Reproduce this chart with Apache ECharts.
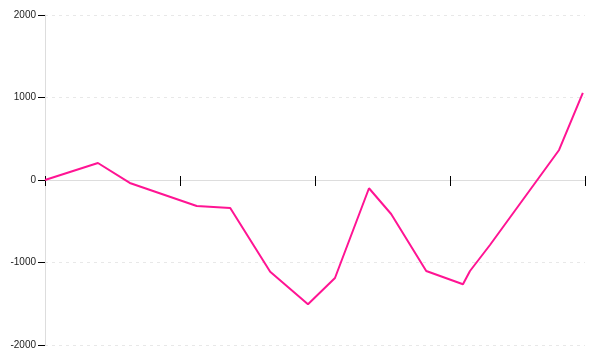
<!DOCTYPE html>
<html>
<head>
<meta charset="utf-8">
<script src="https://cdn.jsdelivr.net/npm/echarts@6/dist/echarts.min.js"></script>
<style>html,body{margin:0;padding:0;background:#fff}#c{width:600px;height:360px}</style>
</head>
<body>
<div id="c"></div>
<script>
var xValues = [0, 9.8, 15.7, 28.1, 34.3, 41.7, 48.7, 53.7, 60.0, 64.1, 70.6, 77.4, 78.7, 82.4, 95.2, 99.6];
var yValues = [0, 206, -36, -315, -340, -1112, -1507, -1188, -100, -412, -1103, -1264, -1103, -788, 364, 1055];
var yTicks = [-2000, -1000, 0, 1000, 2000];

var points = xValues.map(function (x, i) { return [x, yValues[i]]; });
var chart = echarts.init(document.getElementById('c'));
var gridBox = { left: 45, right: 15, top: 15, bottom: 15 };
chart.setOption({
  animation: false,
  grid: [Object.assign({}, gridBox), Object.assign({}, gridBox)],
  xAxis: [
    {
      gridIndex: 0, type: 'value', min: 0, max: 100, interval: 25,
      axisLabel: { show: false }, splitLine: { show: false },
      axisLine: { onZero: true, lineStyle: { color: '#dddddd', width: 1 } },
      axisTick: { show: true, length: 6, inside: false, lineStyle: { color: '#000' } }
    },
    {
      gridIndex: 1, type: 'value', min: 0, max: 100, interval: 25,
      axisLabel: { show: false }, splitLine: { show: false },
      axisLine: { show: false, onZero: true },
      axisTick: { show: true, length: 4, inside: true, lineStyle: { color: '#000' } }
    }
  ],
  yAxis: [
    {
      gridIndex: 0, type: 'value', min: -2000, max: 2000, interval: 1000,
      axisLine: { show: true, lineStyle: { color: '#dddddd' } },
      axisTick: { show: true, length: 7, lineStyle: { color: '#000' } },
      axisLabel: {
        color: '#222', fontSize: 10, margin: 9, fontFamily: 'Liberation Sans',
        formatter: function (v) { return yTicks.indexOf(v) >= 0 ? String(v) : ''; }
      },
      splitLine: { show: true, lineStyle: { color: '#e8e8e8', type: [3, 4] } }
    },
    {
      gridIndex: 1, type: 'value', min: -2000, max: 2000, interval: 1000,
      axisLine: { show: false }, axisTick: { show: false },
      axisLabel: { show: false }, splitLine: { show: false }
    }
  ],
  series: [{
    type: 'line', data: points, xAxisIndex: 0, yAxisIndex: 0,
    showSymbol: false, symbol: 'none',
    lineStyle: { color: '#ff1493', width: 2 }
  }]
});
</script>
</body>
</html>
